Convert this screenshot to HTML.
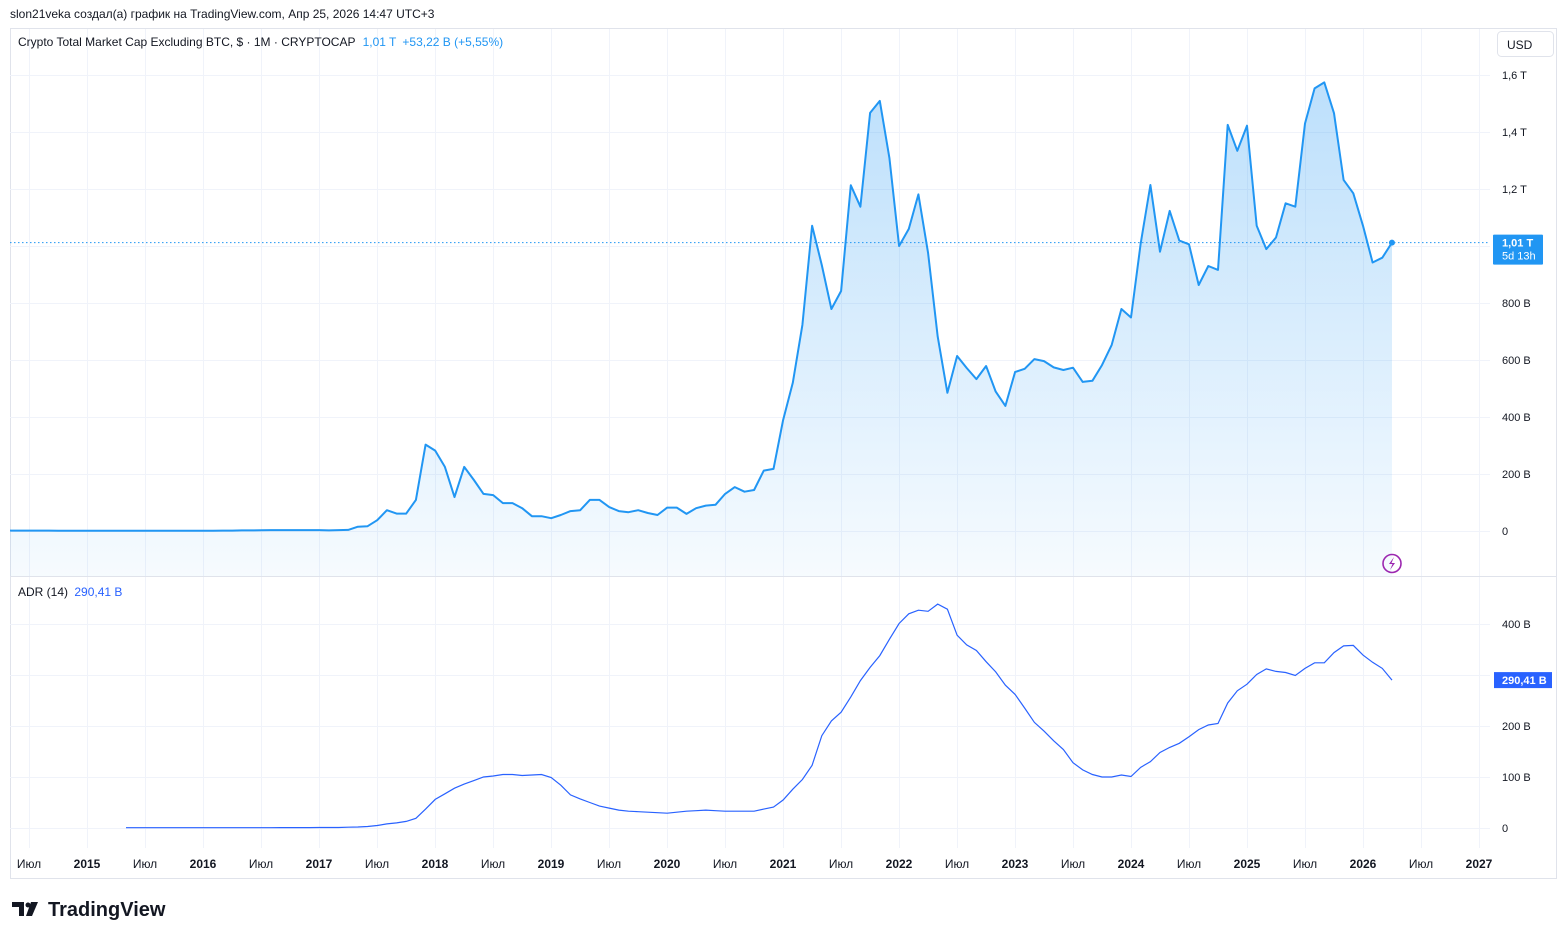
<!DOCTYPE html>
<html><head><meta charset="utf-8">
<style>
html,body{margin:0;padding:0;background:#fff;width:1567px;height:939px;overflow:hidden;font-family:"Liberation Sans","DejaVu Sans",sans-serif}
svg{position:absolute;left:0;top:0}
</style></head>
<body>
<svg id="chart" width="1567" height="939" xmlns="http://www.w3.org/2000/svg">
  <text x="10" y="18" font-size="12" fill="#131722">slon21veka создал(а) график на TradingView.com, Апр 25, 2026 14:47 UTC+3</text>
  <rect x="10.5" y="28.5" width="1546" height="850" fill="none" stroke="#e0e3eb"/>
  <g id="grid"></g>
  <g id="main"></g>
  <g id="adr"></g>
  <line x1="10" x2="1557" y1="576.5" y2="576.5" stroke="#e0e3eb"/>
  <g id="axes"></g>
  <text x="18" y="46" font-size="12" fill="#131722">Crypto Total Market Cap Excluding BTC, $ · 1M · CRYPTOCAP <tspan fill="#2196F3" dx="4">1,01 T</tspan><tspan fill="#2196F3" dx="6">+53,22 B (+5,55%)</tspan></text>
  <text x="18" y="596" font-size="12" fill="#131722">ADR (14) <tspan fill="#2962FF" dx="3">290,41 B</tspan></text>
  <rect x="1497.5" y="31.5" width="56" height="25" rx="4" fill="#fff" stroke="#e0e3eb"/>
  <text x="1507" y="49" font-size="12" fill="#131722">USD</text>
  <g>
    <circle cx="1392" cy="563.5" r="9" fill="none" stroke="#9c27b0" stroke-width="1.6"/>
    <path d="M1394 557 L1389 564 L1392.5 564 L1390 570 L1395 563 L1391.5 563 Z" fill="#9c27b0"/>
  </g>
  <g>
    <path d="M12 902 h12 v14 h-5 v-9 h-7 z" fill="#131722"/>
    <circle cx="28" cy="905" r="2.5" fill="#131722"/>
    <path d="M31 902 h7 l-6 14 h-6 z" fill="#131722"/>
    <text x="48" y="916" font-size="20" font-weight="bold" fill="#131722">TradingView</text>
  </g>
</svg>
<script>
// Main series: monthly close (billions USD), starting May 2014
const mainValues = [1.5,1.5,1.5,1.4,1.3,1.2,1.1,1,1,0.9,0.9,0.8,0.8,0.8,0.8,0.8,0.9,0.9,1,1,1,1.2,1.4,1.5,2,2,2.5,3,3,3,3,3,3,
2,3,4,15,17,38,73,61,61,109,303,282,225,119,225,179,130,126,98,98,80,52,52,45,56,70,73,109,109,84,70,66,73,63,56,82,82,60,80,89,92,130,154,138,144,212,218,
389,520,723,1071,933,779,842,1213,1138,1467,1509,1309,1000,1060,1181,975,682,485,614,572,533,579,489,439,558,569,603,596,574,565,573,523,
527,582,653,779,749,1009,1214,980,1123,1019,1006,863,930,916,1425,1334,1422,1071,989,1030,1150,1138,1430,1553,1574,1466,1232,1185,1071,942,959,1012];
// ADR(14) values (billions), starting at month index 12
const adrStart = 12;
const adrValues = [0.5,0.5,0.5,0.5,0.5,0.5,0.5,0.5,0.5,0.5,0.5,0.5,0.5,0.5,0.6,0.6,0.7,0.7,0.8,0.8,0.9,1,
1,1.5,2,3,5,8,10,13,19,37,56,67,78,86,93,100,102,105,105,103,104,105,99,84,65,57,50,43,39,35,33,32,31,30,29,31,33,34,35,34,33,33,33,33,37,41,55,
76,95,123,181,210,227,257,289,315,338,370,401,420,427,425,439,429,378,359,348,326,306,280,262,235,207,190,171,154,128,114,105,100,100,104,101,119,130,148,158,166,179,193,202,205,245,269,282,301,312,307,305,299,313,324,324,344,357,358,339,325,313,290];
const mainTicks = [0,200,400,600,800,1200,1400,1600];
const mainTickLabels = ["0","200 B","400 B","600 B","800 B","1,2 T","1,4 T","1,6 T"];
const mainGrid = [0,200,400,600,800,1000,1200,1400,1600];
const adrTicks = [0,100,200,400];
const adrTickLabels = ["0","100 B","200 B","400 B"];
const adrGrid = [0,100,200,300,400];
const xLabels = ["Июл","2015","Июл","2016","Июл","2017","Июл","2018","Июл","2019","Июл","2020","Июл","2021","Июл","2022","Июл","2023","Июл","2024","Июл","2025","Июл","2026","Июл","2027"];
const lastValueLabel = "1,01 T";
const lastCountdown = "5d 13h";
const adrLastLabel = "290,41 B";

const NS="http://www.w3.org/2000/svg";
const xOf = i => 10 + i*9.664;           // month index -> px
const yMain = v => 531 - v*0.285;       // billions -> px
const yAdr = v => 828 - v*0.51;
function mk(tag, attrs, parent){const e=document.createElementNS(NS,tag);for(const k in attrs)e.setAttribute(k,attrs[k]);parent.appendChild(e);return e;}
const grid=document.getElementById('grid'), main=document.getElementById('main'), adr=document.getElementById('adr'), axes=document.getElementById('axes');

// grid
xLabels.forEach((t,k)=>{const x=29+k*58;
  const g=mk('line',{x1:x+.5,x2:x+.5,y1:29,y2:848,stroke:'#f0f3fa'},grid);
  
  
  const tx=mk('text',{x:x,y:868,'font-size':12,'text-anchor':'middle',fill:'#131722','font-weight':t==='Июл'?'normal':'bold'},axes);
  tx.textContent=t;
  
  
});
mainGrid.forEach(v=>{const y=Math.round(yMain(v))+.5;
  const g=mk('line',{x1:10,x2:1490,y1:y,y2:y,stroke:'#f0f3fa'},grid);
  
  
});
adrGrid.forEach(v=>{const y=Math.round(yAdr(v))+.5;
  const g=mk('line',{x1:10,x2:1490,y1:y,y2:y,stroke:'#f0f3fa'},grid);
  
  
});
mainTicks.forEach((v,k)=>{const t=mk('text',{x:1502,y:yMain(v)+4,'font-size':11,fill:'#131722'},axes);
  t.textContent=mainTickLabels[k];
  
  
});
adrTicks.forEach((v,k)=>{const t=mk('text',{x:1502,y:yAdr(v)+4,'font-size':11,fill:'#131722'},axes);
  t.textContent=adrTickLabels[k];
  
  
});

// main area + line
const defs=mk('defs',{},main);
const lg=mk('linearGradient',{id:'fillg',x1:0,y1:0,x2:0,y2:1},defs);
mk('stop',{offset:'0','stop-color':'#2196F3','stop-opacity':'0.3'},lg);
mk('stop',{offset:'1','stop-color':'#2196F3','stop-opacity':'0.04'},lg);
let pts=mainValues.map((v,i)=>xOf(i).toFixed(1)+','+yMain(v).toFixed(1));
const n=mainValues.length-1;
const area=mk('path',{d:'M'+xOf(0)+',576 L'+pts.join(' L')+' L'+xOf(n)+',576 Z',fill:'url(#fillg)'},main);


const line=mk('polyline',{points:pts.join(' '),fill:'none',stroke:'#2196F3','stroke-width':2,'stroke-linejoin':'round'},main);


const lastY=yMain(mainValues[n]);
const dl=mk('line',{x1:10,x2:1490,y1:lastY,y2:lastY,stroke:'#2196F3','stroke-dasharray':'1.5 2.5','stroke-width':1},main);


const dot=mk('circle',{cx:xOf(n),cy:lastY,r:3,fill:'#2196F3'},main);


const box=mk('rect',{x:1493,y:lastY-8,width:50,height:30,rx:1,fill:'#2196F3'},main);


const t1=mk('text',{x:1502,y:lastY+4,'font-size':11,'font-weight':'bold',fill:'#fff'},main);t1.textContent=lastValueLabel;


const t2=mk('text',{x:1502,y:lastY+17,'font-size':11,fill:'#fff'},main);t2.textContent=lastCountdown;



// ADR
const apts=adrValues.map((v,i)=>xOf(i+adrStart).toFixed(1)+','+yAdr(v).toFixed(1));
const al=mk('polyline',{points:apts.join(' '),fill:'none',stroke:'#2962FF','stroke-width':1.2},adr);


const ay=yAdr(adrValues[adrValues.length-1]);
const ab=mk('rect',{x:1494,y:ay-8,width:58,height:16,fill:'#2962FF'},adr);


const at=mk('text',{x:1502,y:ay+4,'font-size':11,'font-weight':'bold',fill:'#fff'},adr);at.textContent=adrLastLabel;


</script>
</body></html>
